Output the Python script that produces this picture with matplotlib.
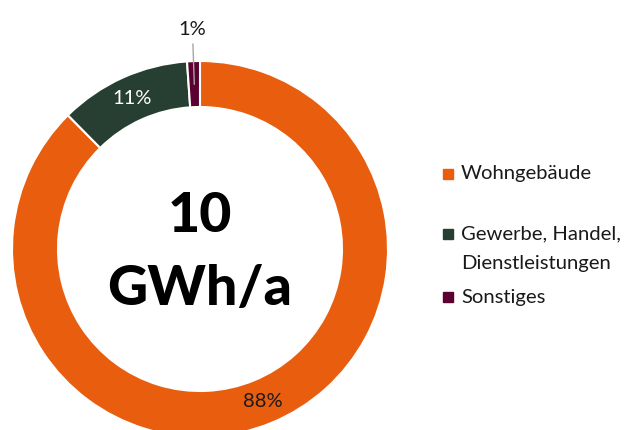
import matplotlib
matplotlib.use("Agg")
from matplotlib import pyplot as plt
from matplotlib.patches import Rectangle
import numpy as np

# Anteile am Endenergieverbrauch
kategorien = ['Wohngebäude', 'Gewerbe, Handel,\nDienstleistungen', 'Sonstiges']
anteile = [87.6, 11.3, 1.1]
beschriftung = ['88%', '11%', '1%']
farben = ['#E95D0E', '#263F32', '#5B0030']
farbe_text = ['#1a1a1a', '#ffffff', '#1a1a1a']
gesamt = '10\nGWh/a'

plt.rcParams['font.family'] = ['Lato', 'DejaVu Sans']

fig = plt.figure(figsize=(6.25, 4.3), dpi=100)
# achse so gelegt, dass der ring unten leicht abgeschnitten ist
ax = fig.add_axes([12/625, -7/430, 376/625, 376/430])

breite = 46/188
wedges, _ = ax.pie(anteile, colors=farben, startangle=90, counterclock=False,
                   radius=1, wedgeprops=dict(width=breite, edgecolor='white', linewidth=1.5))
ax.set_xlim(-1, 1)
ax.set_ylim(-1, 1)
ax.set_aspect('equal')
ax.axis('off')

r_mitte = 1 - breite/2
for i, w in enumerate(wedges):
    ang = np.deg2rad((w.theta1 + w.theta2)/2)
    if anteile[i] < 3:
        # kleiner anteil: außerhalb mit linie
        ax.plot([r_mitte*np.cos(ang), 1.09*np.cos(ang)], [r_mitte*np.sin(ang), 1.09*np.sin(ang)],
                color='#A6A6A6', lw=1, clip_on=False)
        ax.text(1.17*np.cos(ang), 1.17*np.sin(ang), beschriftung[i], ha='center', va='center',
                fontsize=14.5, color=farbe_text[i])
    else:
        ax.text(r_mitte*np.cos(ang), r_mitte*np.sin(ang), beschriftung[i], ha='center', va='center',
                fontsize=14.5, color=farbe_text[i])

ax.text(0, -0.02, gesamt, ha='center', va='center', fontsize=40, fontweight='black',
        linespacing=1.55, color='black')

# legende von hand
leg_y = [174, 234, 297]
for i in range(len(kategorien)):
    y = 1 - leg_y[i]/430
    fig.patches.append(Rectangle((443/625, y - 5/430), 10/625, 10/430, color=farben[i],
                                 transform=fig.transFigure, figure=fig))
    for k, zeile in enumerate(kategorien[i].split('\n')):
        fig.text(461/625, y - k*29/430, zeile, ha='left', va='center',
                 fontsize=14.6, color='#1a1a1a')

fig.savefig('out.png', dpi=100)
